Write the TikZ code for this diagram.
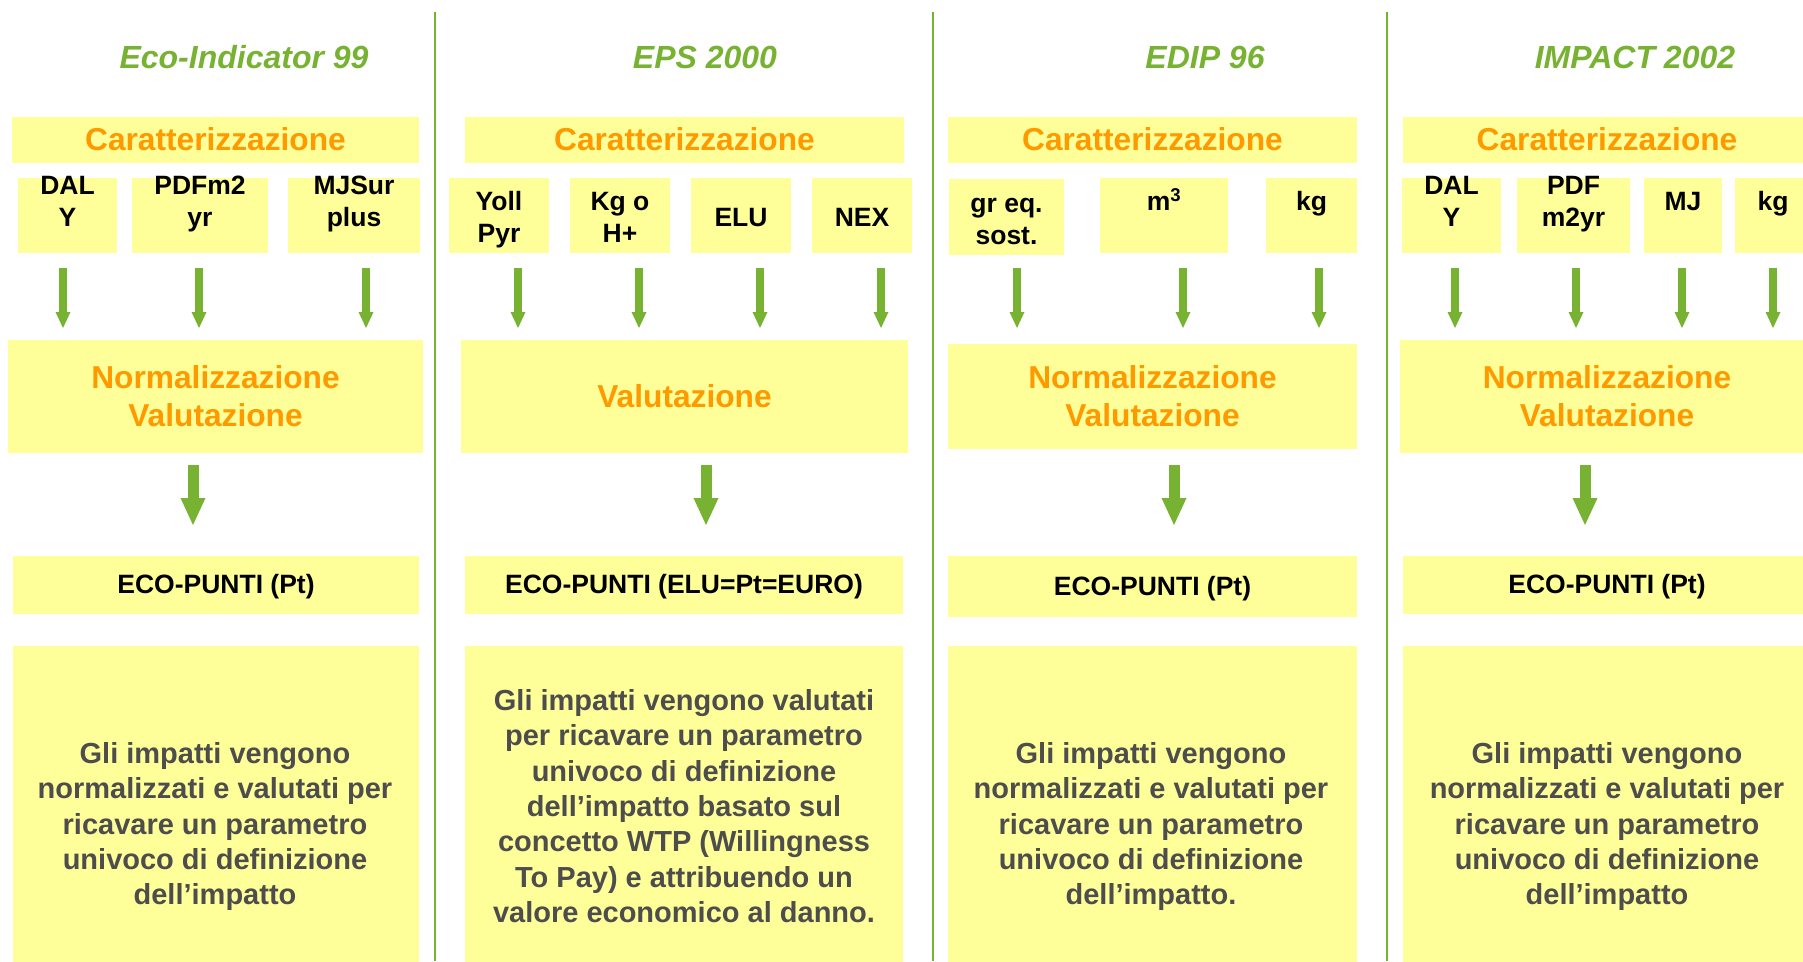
\documentclass[tikz,border=0pt]{standalone}
\usepackage{fontspec}
\setmainfont{Liberation Sans}
\usetikzlibrary{arrows.meta,calc}
\definecolor{boxy}{HTML}{FFFF99}
\definecolor{orng}{HTML}{FF9900}
\definecolor{grn}{RGB}{119,178,50}
\definecolor{dgray}{HTML}{4D4D4D}
\newcommand\yb[5]{\node[ybox,minimum width={(#3-#1)*1pt},minimum height={(#4-#2)*1pt}] (#5) at ({(#1+#3)/2},{(#2+#4)/2})}
\newcommand\firstln{\rule{0pt}{0.8em}}
\tikzset{
  ybox/.style={fill=boxy,draw=none,inner sep=0pt,outer sep=0pt,align=center},
  ttl/.style={text=grn,font=\fontsize{32}{38}\selectfont\bfseries\itshape,anchor=base,inner sep=0pt},
  ortxt/.style={text=orng,font=\fontsize{31.7}{38}\selectfont\bfseries,text depth=1.5pt},
  ecotxt/.style={text=black,font=\fontsize{26.5}{32}\selectfont\bfseries,text height=17pt,text depth=0pt},
  unit/.style={inner sep=0pt,anchor=north,align=center,yshift=21.2pt,font=\fontsize{26.5}{32}\selectfont\bfseries},
  desc/.style={inner sep=0pt,anchor=north,align=center,yshift=23.2pt,text=dgray,font=\fontsize{29}{35.4}\selectfont\bfseries},
  sarr/.style={draw=grn,line width=8pt,-{Triangle[length=16pt,width=15pt,line width=0pt]}},
  barr/.style={draw=grn,line width=11pt,-{Triangle[length=27pt,width=25pt,line width=0pt]}},
  sep/.style={draw=grn,line width=2pt}
}
\begin{document}
\begin{tikzpicture}[x=1pt,y=-1pt]
\useasboundingbox (0,0) rectangle (1803,961);
\clip (0,0) rectangle (1803,961);
% separators
\draw[sep] (435,12) -- (435,961);
\draw[sep] (933,12) -- (933,961);
\draw[sep] (1387,12) -- (1387,961);
% titles
\node[ttl] (h1) at (244,68) {Eco-Indicator 99};
\node[ttl] (h2) at (705,68) {EPS 2000};
\node[ttl] (h3) at (1205,68) {EDIP 96};
\node[ttl] (h4) at (1635,68) {IMPACT 2002};
% Caratterizzazione
\yb{12}{117}{419}{163}{c1} [ortxt] {Caratterizzazione};
\yb{465}{117}{904}{163}{c2} [ortxt] {Caratterizzazione};
\yb{948}{117}{1357}{163}{c3} [ortxt] {Caratterizzazione};
\yb{1403}{117}{1811}{163}{c4} [ortxt] {Caratterizzazione};
% unit boxes
\yb{18}{178}{117}{253}{s11} {};
\yb{132}{178}{268}{253}{s12} {};
\yb{288}{178}{420}{253}{s13} {};
\yb{449}{178}{549}{253}{s21} {};
\yb{570}{178}{670}{253}{s22} {};
\yb{691}{178}{791}{253}{s23} {};
\yb{812}{178}{912}{253}{s24} {};
\yb{949}{179}{1064}{255}{s31} {};
\yb{1100}{178}{1228}{253}{s32} {};
\yb{1266}{178}{1357}{253}{s33} {};
\yb{1402}{178}{1501}{253}{s41} {};
\yb{1517}{178}{1630}{253}{s42} {};
\yb{1644}{178}{1722}{253}{s43} {};
\yb{1735}{178}{1811}{253}{s44} {};
% unit texts
\node[unit] (t11) at (67.5,194) {\firstln DAL\\Y};
\node[unit] (t12) at (200,194) {\firstln PDFm2\\yr};
\node[unit] (t13) at (354,194) {\firstln MJSur\\plus};
\node[unit] (t21) at (499,210) {\firstln Yoll\\Pyr};
\node[unit] (t22) at (620,210) {\firstln Kg o\\H+};
\node[unit] (t23) at (741,226) {\firstln ELU};
\node[unit] (t24) at (862,226) {\firstln NEX};
\node[unit] (t31) at (1006.5,212) {\firstln gr eq.\\sost.};
\node[unit] (t32) at (1164,210) {\firstln m\textsuperscript{3}};
\node[unit] (t33) at (1311.5,210) {\firstln kg};
\node[unit] (t41) at (1451.5,194) {\firstln DAL\\Y};
\node[unit] (t42) at (1573.5,194) {\firstln PDF\\m2yr};
\node[unit] (t43) at (1683,210) {\firstln MJ};
\node[unit] (t44) at (1773,210) {\firstln kg};
% normalisation boxes
\yb{8}{340}{423}{453}{n1} [ortxt] {Normalizzazione\\Valutazione};
\yb{461}{340}{908}{453}{n2} [ortxt] {Valutazione};
\yb{948}{344}{1357}{449}{n3} [ortxt] {Normalizzazione\\Valutazione};
\yb{1400}{340}{1814}{453}{n4} [ortxt] {Normalizzazione\\Valutazione};
% eco-punti boxes
\yb{13}{556}{419}{614}{e1} [ecotxt] {ECO-PUNTI (Pt)};
\yb{465}{556}{903}{614}{e2} [ecotxt] {ECO-PUNTI (ELU=Pt=EURO)};
\yb{948}{556}{1357}{617}{e3} [ecotxt] {ECO-PUNTI (Pt)};
\yb{1403}{556}{1811}{614}{e4} [ecotxt] {ECO-PUNTI (Pt)};
% description boxes
\yb{13}{646}{419}{980}{b1} {};
\yb{465}{646}{903}{980}{b2} {};
\yb{948}{646}{1357}{980}{b3} {};
\yb{1403}{646}{1811}{980}{b4} {};
\node[desc] (d1) at (215,763) {\firstln Gli impatti vengono\\normalizzati e valutati per\\ricavare un parametro\\univoco di definizione\\dell’impatto};
\node[desc] (d2) at (684,710) {\firstln Gli impatti vengono valutati\\per ricavare un parametro\\univoco di definizione\\dell’impatto basato sul\\concetto WTP (Willingness\\To Pay) e attribuendo un\\valore economico al danno.};
\node[desc] (d3) at (1151,763) {\firstln Gli impatti vengono\\normalizzati e valutati per\\ricavare un parametro\\univoco di definizione\\dell’impatto.};
\node[desc] (d4) at (1607,763) {\firstln Gli impatti vengono\\normalizzati e valutati per\\ricavare un parametro\\univoco di definizione\\dell’impatto};
% small arrows
\draw[sarr] ($(s11.south)+(-4.5,15)$) -- ($(s11.south|-n1.north)+(-4.5,-12)$);
\draw[sarr] ($(s12.south)+(-1,15)$) -- ($(s12.south|-n1.north)+(-1,-12)$);
\draw[sarr] ($(s13.south)+(12,15)$) -- ($(s13.south|-n1.north)+(12,-12)$);
\draw[sarr] ($(s21.south)+(19,15)$) -- ($(s21.south|-n2.north)+(19,-12)$);
\draw[sarr] ($(s22.south)+(19,15)$) -- ($(s22.south|-n2.north)+(19,-12)$);
\draw[sarr] ($(s23.south)+(19,15)$) -- ($(s23.south|-n2.north)+(19,-12)$);
\draw[sarr] ($(s24.south)+(19,15)$) -- ($(s24.south|-n2.north)+(19,-12)$);
\draw[sarr] ($(s31.south)+(10.5,13)$) -- ($(s31.south|-n3.north)+(10.5,-16)$);
\draw[sarr] ($(s32.south)+(19,15)$) -- ($(s32.south|-n3.north)+(19,-16)$);
\draw[sarr] ($(s33.south)+(7.5,15)$) -- ($(s33.south|-n3.north)+(7.5,-16)$);
\draw[sarr] ($(s41.south)+(3.5,15)$) -- ($(s41.south|-n4.north)+(3.5,-12)$);
\draw[sarr] ($(s42.south)+(2.5,15)$) -- ($(s42.south|-n4.north)+(2.5,-12)$);
\draw[sarr] ($(s43.south)+(-1,15)$) -- ($(s43.south|-n4.north)+(-1,-12)$);
\draw[sarr] ($(s44.south)+(0,15)$) -- ($(s44.south|-n4.north)+(0,-12)$);
% big arrows
\draw[barr] ($(n1.south)+(-22.5,12)$) -- ($(n1.south|-e1.north)+(-22.5,-31)$);
\draw[barr] ($(n2.south)+(21.5,12)$) -- ($(n2.south|-e2.north)+(21.5,-31)$);
\draw[barr] ($(n3.south)+(21.5,16)$) -- ($(n3.south|-e3.north)+(21.5,-31)$);
\draw[barr] ($(n4.south)+(-22,12)$) -- ($(n4.south|-e4.north)+(-22,-31)$);
\end{tikzpicture}
\end{document}
